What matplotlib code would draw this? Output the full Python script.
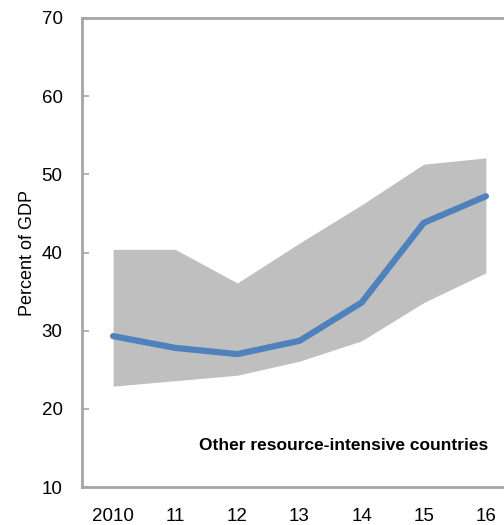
import matplotlib
matplotlib.use("Agg")
from matplotlib import pyplot as plt

years = ["2010", "11", "12", "13", "14", "15", "16"]
median = [29.3, 27.8, 27.0, 28.7, 33.6, 43.8, 47.2]
upper = [40.4, 40.4, 36.1, 41.2, 46.1, 51.3, 52.1]
lower = [22.9, 23.6, 24.3, 26.1, 28.7, 33.6, 37.4]

plt.rcParams["font.family"] = ["Liberation Sans Narrow", "Liberation Sans", "DejaVu Sans"]

fig = plt.figure(figsize=(5.04, 5.25), dpi=100)
ax = fig.add_axes([82 / 504, 38 / 525, 435 / 504, 469 / 525])

x = list(range(len(years)))
ax.fill_between(x, lower, upper, color="#bfbfbf", linewidth=0)
ax.plot(x, median, color="#4f81bd", linewidth=4.5, solid_capstyle="round")

ax.set_xlim(-0.5, 6.5)
ax.set_ylim(10, 70)
ax.set_yticks(range(10, 71, 10))
ax.set_xticks(x)
ax.set_xticklabels(years)

for side in ["left", "top", "bottom"]:
    ax.spines[side].set_color("#a6a6a6")
    ax.spines[side].set_linewidth(2)
ax.spines["right"].set_visible(False)

ax.tick_params(axis="y", direction="in", length=5, width=1.2, color="#a6a6a6",
               pad=14, labelsize=13.5)
ax.tick_params(axis="x", length=0, pad=15, labelsize=13.5)

ax.set_ylabel("Percent of GDP", fontsize=13, labelpad=4)

ax.text(0.933, 0.088, "Other resource-intensive countries", transform=ax.transAxes,
        ha="right", va="center", fontsize=12.5, fontweight="bold")

fig.savefig("out.png", dpi=100)
